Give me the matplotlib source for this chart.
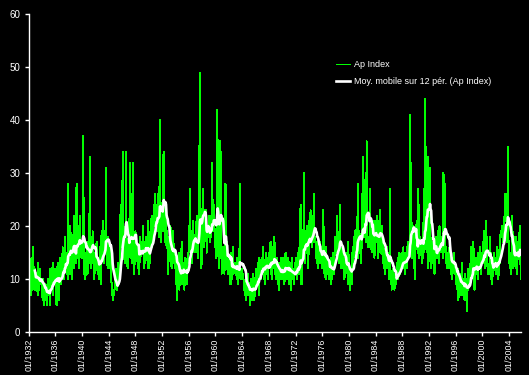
import matplotlib
matplotlib.use("Agg")
import matplotlib.pyplot as plt
import numpy as np
import pandas as pd

# monthly Ap index (Jan 1932 .. Nov 2005)
ap_1930s = [
    18, 17, 9, 12, 7, 14, 11, 8, 16, 10, 9, 8,       # 1932
    12, 8, 11, 10, 7, 13, 9, 8, 12, 9, 10, 10,       # 1933
    8, 6, 10, 7, 5, 9, 6, 8, 7, 5, 10, 9,            # 1934
    7, 10, 5, 12, 8, 10, 9, 13, 7, 11, 10, 12,       # 1935
    9, 12, 5, 10, 13, 8, 11, 6, 14, 10, 9, 13,       # 1936
    11, 16, 12, 14, 10, 18, 12, 15, 11, 14, 10, 28,  # 1937
    14, 18, 11, 20, 13, 16, 10, 17, 14, 22, 12, 15,  # 1938
    15, 13, 28, 18, 14, 20, 12, 17, 22, 15, 16, 14,  # 1939
]
ap_1940s = [
    14, 18, 37, 16, 11, 13, 10, 15, 12, 17, 11, 14,
    13, 17, 33, 15, 12, 18, 14, 19, 14, 12, 10, 13,
    15, 12, 17, 13, 11, 14, 10, 12, 16, 14, 9, 19,
    14, 18, 21, 16, 13, 19, 15, 31, 17, 14, 12, 18,
    15, 13, 16, 12, 14, 9, 7, 8, 6, 8, 7, 10,
    9, 11, 12, 8, 10, 13, 9, 11, 12, 22, 24, 21,
    16, 34, 22, 18, 14, 13, 15, 34, 16, 13, 12, 13,
    15, 17, 32, 18, 14, 16, 13, 32, 17, 14, 11, 17,
    19, 17, 14, 16, 12, 15, 13, 11, 18, 14, 17, 16,
    17, 15, 20, 14, 12, 16, 13, 18, 15, 17, 12, 21,
]
ap_1950s = [
    13, 12, 15, 19, 17, 22, 16, 20, 18, 24, 21, 26,
    20, 24, 22, 19, 26, 21, 18, 23, 40, 25, 17, 21,
    22, 19, 33, 34, 20, 17, 23, 18, 16, 19, 14, 11,
    16, 18, 14, 20, 15, 12, 17, 13, 19, 14, 16, 12,
    14, 9, 12, 6, 13, 10, 15, 8, 11, 14, 9, 17,
    10, 13, 9, 12, 8, 11, 14, 10, 12, 9, 15, 15,
    15, 18, 27, 16, 14, 19, 13, 17, 21, 15, 18, 16,
    18, 15, 22, 17, 14, 16, 20, 31, 49, 19, 12, 13,
    22, 24, 27, 18, 16, 21, 19, 23, 17, 15, 20, 18,
    19, 22, 17, 20, 18, 23, 32, 21, 19, 24, 20, 18,
]
ap_1960s = [
    16, 14, 18, 42, 33, 15, 13, 12, 36, 14, 34, 11,
    13, 16, 12, 15, 11, 14, 28, 12, 17, 13, 11, 12,
    14, 11, 13, 9, 15, 12, 10, 16, 11, 13, 12, 12,
    11, 13, 10, 14, 9, 12, 11, 13, 28, 10, 12, 11,
    12, 10, 11, 8, 9, 7, 10, 6, 8, 9, 7, 11,
    7, 9, 5, 8, 10, 6, 8, 7, 11, 9, 6, 10,
    8, 12, 10, 9, 13, 11, 7, 14, 12, 10, 13, 13,
    14, 11, 16, 10, 13, 9, 12, 15, 11, 13, 10, 14,
    12, 15, 13, 17, 11, 14, 10, 16, 13, 12, 18, 11,
    13, 10, 14, 12, 9, 11, 8, 13, 12, 10, 14, 12,
]
ap_1970s = [
    11, 14, 10, 13, 9, 12, 15, 11, 13, 10, 12, 14,
    12, 9, 13, 10, 8, 11, 14, 10, 12, 9, 11, 13,
    11, 14, 12, 10, 15, 13, 11, 16, 12, 24, 9, 9,
    15, 18, 14, 30, 16, 13, 19, 17, 15, 20, 12, 13,
    18, 21, 17, 23, 19, 16, 22, 20, 18, 26, 17, 18,
    17, 14, 16, 13, 18, 12, 15, 14, 17, 13, 16, 15,
    12, 15, 23, 13, 11, 14, 10, 16, 12, 14, 11, 13,
    10, 13, 11, 14, 9, 12, 10, 15, 13, 11, 14, 18,
    15, 18, 17, 22, 14, 16, 13, 19, 24, 15, 12, 13,
    13, 16, 12, 14, 10, 13, 11, 15, 12, 14, 9, 17,
]
ap_1980s = [
    9, 11, 8, 12, 10, 9, 14, 16, 13, 17, 18, 19,
    15, 18, 20, 16, 28, 14, 17, 19, 15, 18, 13, 17,
    20, 33, 22, 18, 19, 21, 30, 17, 36, 20, 16, 18,
    18, 16, 27, 20, 17, 15, 19, 21, 16, 18, 14, 21,
    19, 17, 22, 20, 16, 14, 18, 21, 23, 17, 15, 20,
    16, 13, 17, 12, 15, 11, 14, 13, 16, 12, 15, 14,
    10, 12, 27, 9, 11, 8, 10, 12, 9, 11, 8, 11,
    10, 9, 13, 11, 14, 10, 12, 15, 11, 13, 12, 14,
    15, 13, 16, 12, 14, 11, 13, 15, 12, 16, 14, 17,
    16, 15, 41, 18, 32, 14, 17, 15, 20, 18, 12, 10,
]
ap_1990s = [
    17, 19, 21, 16, 15, 27, 14, 18, 16, 15, 17, 13,
    16, 14, 19, 27, 15, 44, 16, 35, 30, 15, 33, 12,
    18, 14, 31, 15, 12, 16, 14, 17, 13, 15, 11, 17,
    15, 18, 17, 14, 19, 16, 13, 20, 18, 15, 17, 18,
    16, 14, 30, 29, 15, 28, 13, 16, 12, 14, 15, 12,
    14, 16, 12, 15, 11, 13, 10, 14, 12, 15, 11, 13,
    11, 9, 10, 8, 12, 6, 9, 11, 8, 10, 7, 13,
    9, 7, 10, 8, 6, 11, 7, 9, 4, 10, 8, 12,
    10, 12, 9, 14, 16, 11, 13, 12, 17, 10, 8, 10,
    12, 14, 11, 13, 10, 15, 12, 14, 16, 13, 11, 15,
]
ap_2000s = [
    14, 17, 13, 19, 15, 12, 21, 16, 18, 13, 11, 11,
    11, 13, 18, 14, 10, 12, 9, 13, 11, 15, 14, 14,
    13, 11, 12, 16, 15, 10, 14, 13, 17, 19, 18, 20,
    19, 17, 20, 18, 22, 26, 21, 26, 17, 19, 35, 18,
    13, 15, 12, 14, 11, 16, 22, 13, 12, 14, 18, 14,
    18, 13, 11, 12, 17, 14, 16, 19, 20, 10, 13,
]

ap = pd.Series(ap_1930s + ap_1940s + ap_1950s + ap_1960s + ap_1970s
               + ap_1980s + ap_1990s + ap_2000s, dtype=float)
months = pd.date_range("1932-01-01", periods=len(ap), freq="MS")
moy = ap.rolling(12).mean()

plt.rcParams['font.family'] = ['Liberation Sans', 'DejaVu Sans']

fig = plt.figure(figsize=(5.29, 3.75), dpi=100, facecolor='black')
ax = fig.add_axes([0.0543, 0.1147, 0.9315, 0.8472], facecolor='black')

x = np.arange(len(ap))
ax.plot(x, ap, color='#00ff00', lw=0.72, antialiased=False, label='Ap Index')
ax.plot(x, moy, color='white', lw=1.9, label='Moy. mobile sur 12 pér. (Ap Index)')

ax.set_ylim(0, 60)
ax.set_yticks(range(0, 61, 10))
ax.set_xlim(0, len(ap) - 0.5)
tick_pos = x[::48]
ax.set_xticks(tick_pos)
ax.set_xticklabels([months[i].strftime('%m/%Y') for i in tick_pos], rotation=90)

for side in ['top', 'right']:
    ax.spines[side].set_visible(False)
for side in ['left', 'bottom']:
    ax.spines[side].set_color('white')
    ax.spines[side].set_linewidth(1.0)
ax.tick_params(colors='white', length=3, width=1.0)
ax.tick_params(axis='y', labelsize=7, pad=3)
ax.tick_params(axis='x', labelsize=6.4, pad=2)

leg = ax.legend(loc='upper left', bbox_to_anchor=(0.607, 0.882), frameon=False,
                fontsize=6.5, handlelength=1.55, handletextpad=0.45, labelspacing=0.9)
for t in leg.get_texts():
    t.set_color('white')

fig.savefig('out.png', dpi=100, facecolor='black')
